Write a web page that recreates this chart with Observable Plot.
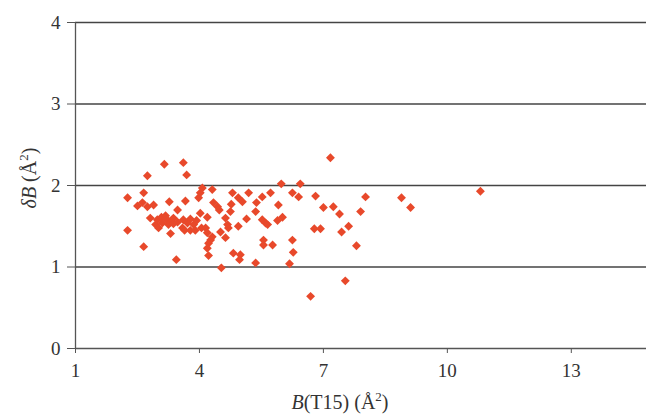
<!DOCTYPE html>
<html><head><meta charset="utf-8">
<script src="https://cdn.jsdelivr.net/npm/d3@7"></script>
<script src="https://cdn.jsdelivr.net/npm/@observablehq/plot@0.6"></script>
<style>html,body{margin:0;padding:0;background:#fff;}</style>
</head><body><div id="chart"></div>
<script>
const bT15 = [
2.26,2.26,2.50,2.62,2.65,2.65,2.74,2.74,2.89,3.15,3.27,3.47,3.44,3.30,
2.81,2.94,2.98,3.01,3.08,3.10,3.18,3.20,3.25,3.30,3.37,3.37,3.47,3.59,
3.61,3.69,3.66,3.61,3.71,3.78,3.86,3.93,3.64,3.78,3.90,4.02,4.05,
3.98,4.02,4.07,4.31,4.34,4.44,4.48,4.19,4.15,4.19,4.31,4.27,4.22,4.19,4.22,4.51,
4.63,4.75,4.68,4.70,4.63,4.80,4.94,5.04,4.77,5.19,4.94,5.14,4.82,4.99,4.97,4.53,5.36,
5.38,5.36,5.52,5.72,5.91,5.52,5.60,5.65,5.89,6.01,5.55,5.55,5.77,5.98,6.25,6.40,6.44,6.25,6.27,6.18,
6.81,7.00,7.24,7.39,6.78,6.93,7.44,7.61,7.90,8.02,7.80,7.53,6.69,8.89,9.11,10.80,7.17
];
const deltaB = [
1.85,1.45,1.75,1.79,1.91,1.25,2.12,1.74,1.76,2.26,1.80,1.70,1.09,1.41,
1.60,1.52,1.58,1.48,1.61,1.54,1.63,1.59,1.52,1.55,1.60,1.53,1.55,1.48,
2.28,2.13,1.81,1.58,1.54,1.59,1.52,1.57,1.45,1.45,1.45,1.66,1.48,
1.85,1.91,1.97,1.95,1.79,1.74,1.70,1.61,1.48,1.42,1.37,1.33,1.29,1.23,1.14,1.43,
1.60,1.68,1.52,1.48,1.36,1.91,1.85,1.80,1.77,1.91,1.50,1.59,1.17,1.15,1.09,0.99,1.05,
1.79,1.68,1.86,1.91,1.76,1.58,1.54,1.52,1.57,1.61,1.33,1.27,1.27,2.02,1.91,1.86,2.02,1.33,1.18,1.04,
1.87,1.73,1.74,1.65,1.47,1.47,1.43,1.50,1.68,1.86,1.26,0.83,0.64,1.85,1.73,1.93,2.34
];
const xTicks = [1, 4, 7, 10, 13];
const yTicks = [0, 1, 2, 3, 4];
const gridLevels = [1, 2, 3, 4];

const points = bT15.map((x, i) => ({x, y: deltaB[i]}));
const font = "Liberation Serif";

const chart = Plot.plot({
  width: 646,
  height: 414,
  marginLeft: 75,
  marginRight: 0,
  marginTop: 22,
  marginBottom: 66,
  style: {fontFamily: font, fontSize: "19px", color: "#333", background: "#fff"},
  x: {domain: [1, 14.82]},
  y: {domain: [0, 4]},
  marks: [
    Plot.ruleY(gridLevels, {stroke: "#444", strokeWidth: 1.3}),
    Plot.axisY({ticks: yTicks, tickSize: 8, tickPadding: 7, tickFormat: d => String(d), label: null, stroke: "#555", fontSize: 19, fontFamily: font}),
    Plot.axisX({ticks: xTicks, tickSize: 5, tickPadding: 10, tickFormat: d => String(d), label: null, stroke: "#555", fontSize: 19, fontFamily: font}),
    Plot.ruleX([1], {y1: 0, y2: 4, stroke: "#555", strokeWidth: 1.3}),
    Plot.ruleY([0], {stroke: "#555", strokeWidth: 1.3}),
    Plot.dot(points, {x: "x", y: "y", symbol: "diamond2", r: 4, fill: "#e8492b", stroke: "none"})
  ]
});
document.getElementById("chart").appendChild(chart);

const svg = d3.select(chart);
const yl = svg.append("text")
  .attr("transform", "translate(36,178) rotate(-90)")
  .attr("text-anchor", "middle")
  .attr("font-family", font).attr("font-size", 20).attr("fill", "#333");
yl.append("tspan").attr("font-style", "italic").text("δB");
yl.append("tspan").text(" (Å");
yl.append("tspan").attr("font-size", 13).attr("dy", -8).text("2");
yl.append("tspan").attr("dy", 8).text(")");

const xl = svg.append("text")
  .attr("x", 340).attr("y", 409)
  .attr("text-anchor", "middle")
  .attr("font-family", font).attr("font-size", 20).attr("fill", "#333");
xl.append("tspan").attr("font-style", "italic").text("B");
xl.append("tspan").text("(T15) (Å");
xl.append("tspan").attr("font-size", 13).attr("dy", -8).text("2");
xl.append("tspan").attr("dy", 8).text(")");
</script>
</body></html>
